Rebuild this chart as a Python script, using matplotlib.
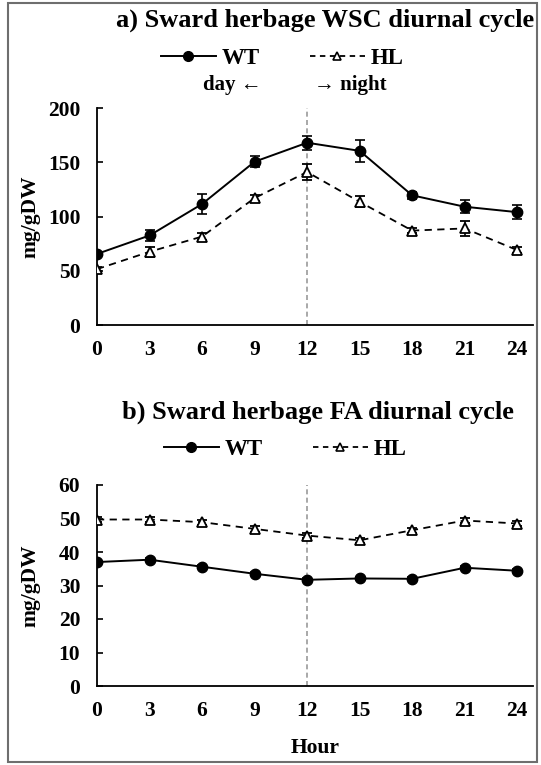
import matplotlib
matplotlib.use('Agg')
import matplotlib.pyplot as plt
from matplotlib.patches import Rectangle
from matplotlib.lines import Line2D

plt.rcParams['font.family'] = ['Liberation Serif', 'DejaVu Serif']
plt.rcParams['font.weight'] = 'bold'

# data
hours = [0, 3, 6, 9, 12, 15, 18, 21, 24]

wsc_wt = [65.5, 82.5, 111.5, 150.5, 168, 160.5, 119.5, 109, 104]
wsc_wt_err = [2, 5, 9, 5, 6.5, 10, 3.5, 6, 6.5]
wsc_hl = [51.5, 67.5, 81.5, 117, 141, 113.5, 87, 89, 69]
wsc_hl_err = [2, 4.5, 3, 3, 7.5, 5, 2, 7, 3]

fa_wt = [37.0, 37.7, 35.6, 33.5, 31.7, 32.1, 32.0, 35.3, 34.4]
fa_wt_err = [0.5, 0.5, 0.5, 0.5, 0.5, 0.5, 0.5, 0.5, 0.5]
fa_hl = [49.7, 49.7, 48.9, 46.9, 44.9, 43.5, 46.5, 49.4, 48.5]
fa_hl_err = [0.8, 0.6, 0.8, 0.8, 0.8, 0.8, 0.8, 0.8, 0.8]

W, H = 541, 765
fig = plt.figure(figsize=(W / 100, H / 100), dpi=100)


def px(x, y):
    return x / W, 1 - y / H


def style_axes(ax, ymax, ystep):
    ax.set_xlim(0, 24.9)
    ax.set_ylim(0, ymax)
    ax.set_xticks(hours)
    ax.set_yticks(range(0, ymax + 1, ystep))
    for s in ['top', 'right']:
        ax.spines[s].set_visible(False)
    for s in ['left', 'bottom']:
        ax.spines[s].set_linewidth(1.3)
    ax.tick_params(axis='y', direction='in', length=4, width=1.2, pad=12, labelsize=15.5)
    ax.tick_params(axis='x', length=0, pad=11, labelsize=15.5)
    ax.set_ylabel('mg/gDW', fontsize=15.5, fontweight='bold')
    ax.yaxis.set_label_coords(-0.13, 0.5)
    ax.axvline(12, color='#999999', ls=(0, (3, 2)), lw=1.2, zorder=1)


def draw(ax, wt, wt_err, hl, hl_err):
    ax.errorbar(hours, wt, yerr=wt_err, color='black', lw=1.4, marker='o', ms=7.5,
                capsize=3.5, elinewidth=1.2, capthick=1.2, zorder=3)
    ax.errorbar(hours, hl, yerr=hl_err, color='black', lw=1.3, ls=(0, (4, 3)),
                marker='^', ms=7, mfc='white', mec='black', mew=1.3,
                capsize=3.5, elinewidth=1.2, capthick=1.2, zorder=3)


def legend_at(x, y):
    handles = [
        Line2D([], [], color='black', lw=1.4, marker='o', ms=7),
        Line2D([], [], color='black', lw=1.3, ls=(0, (3, 2.5)), marker='^', ms=6,
               mfc='white', mec='black', mew=1.2),
    ]
    fig.legend(handles, ['WT', 'HL'], loc='center', bbox_to_anchor=px(x, y), ncol=2,
               frameon=False, fontsize=16.5, handlelength=2.4, columnspacing=2.2,
               handletextpad=0.25)


# panel a
ax1 = fig.add_axes([97 / W, 1 - 325 / H, 436 / W, 217 / H])
draw(ax1, wsc_wt, wsc_wt_err, wsc_hl, wsc_hl_err)
style_axes(ax1, 200, 50)
fig.text(*px(325, 20), 'a) Sward herbage WSC diurnal cycle', ha='center', va='center',
         fontsize=19, fontweight='bold')
fig.text(*px(262, 85), 'day \u2190', ha='right', va='center', fontsize=15, fontweight='bold')
fig.text(*px(314, 85), '\u2192 night', ha='left', va='center', fontsize=15, fontweight='bold')
legend_at(282, 58)

# panel b
ax2 = fig.add_axes([97 / W, 1 - 686 / H, 436 / W, 201 / H])
draw(ax2, fa_wt, fa_wt_err, fa_hl, fa_hl_err)
style_axes(ax2, 60, 10)
ax2.set_xlabel('Hour', fontsize=15.5, fontweight='bold', labelpad=12)
fig.text(*px(318, 412), 'b) Sward herbage FA diurnal cycle', ha='center', va='center',
         fontsize=19, fontweight='bold')
legend_at(285, 449)

# outer frame
fig.patches.append(Rectangle(px(8, 762), 529 / W, 759 / H, transform=fig.transFigure,
                             fill=False, edgecolor='#6e6e6e', lw=1.5))

fig.savefig('out.png', dpi=100)
